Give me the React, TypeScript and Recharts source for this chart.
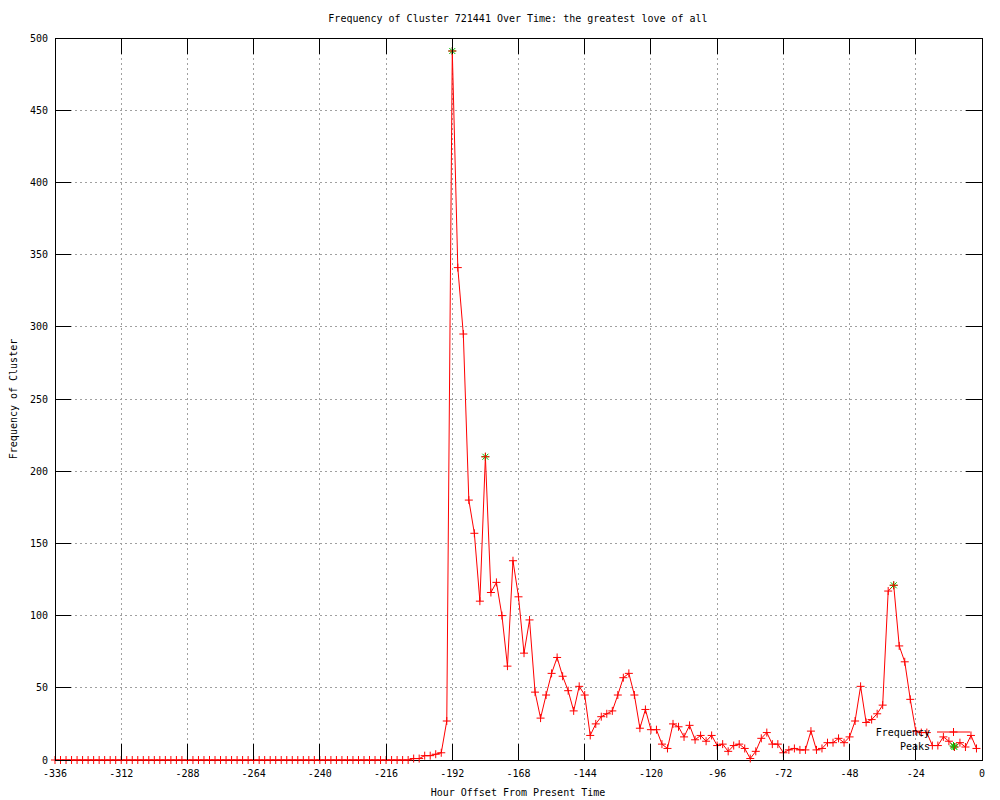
import React from 'react';
import { LineChart, Line, XAxis, YAxis, CartesianGrid, ReferenceArea } from 'recharts';

// hour offsets, one sample every 2 hours from -336 to -2
const hours: number[] = Array.from({ length: 168 }, (_, i) => -336 + 2 * i);

const frequency: number[] = [
  // -336 .. -212
  0, 0, 0, 0, 0, 0, 0, 0, 0, 0, 0, 0, 0, 0, 0, 0, 0, 0, 0, 0, 0,
  0, 0, 0, 0, 0, 0, 0, 0, 0, 0, 0, 0, 0, 0, 0, 0, 0, 0, 0, 0, 0,
  0, 0, 0, 0, 0, 0, 0, 0, 0, 0, 0, 0, 0, 0, 0, 0, 0, 0, 0, 0, 0,
  // -210 .. -194
  0, 0, 1, 1, 3, 3, 4, 5, 27,
  // -192 .. -162
  491, 341, 295, 180, 157, 110, 210, 116, 123, 100, 65, 138, 113, 74, 97, 47,
  // -160 .. -130
  29, 45, 60, 71, 58, 48, 34, 51, 45, 17, 25, 30, 32, 34, 45, 57,
  // -128 .. -98
  60, 45, 22, 35, 21, 21, 11, 8, 25, 23, 16, 24, 14, 17, 13, 17,
  // -96 .. -66
  10, 11, 6, 10, 11, 8, 1, 6, 15, 19, 11, 11, 5, 7, 8, 7,
  // -64 .. -34
  7, 20, 7, 8, 12, 12, 15, 12, 16, 27, 51, 26, 28, 32, 38, 117,
  // -32 .. -2
  121, 79, 68, 42, 20, 19, 19, 10, 10, 16, 13, 9, 12, 9, 17, 8,
];

const peakHours: number[] = [-192, -180, -32, -10];
const peakValues: number[] = [491, 210, 121, 9];

const xTicks: number[] = [-336, -312, -288, -264, -240, -216, -192, -168, -144, -120, -96, -72, -48, -24, 0];
const yTicks: number[] = [0, 50, 100, 150, 200, 250, 300, 350, 400, 450, 500];

const data = hours.map((h, i) => {
  const p = peakHours.indexOf(h);
  return { hour: h, freq: frequency[i], peak: p >= 0 ? peakValues[p] : null };
});

const FONT = '"DejaVu Sans Mono", "Liberation Mono", monospace';
const RED = '#ff0000';
const GREEN = '#00c000';

// plot box (gnuplot draws ticks inward on all four sides)
const TOP = 38;
const BOTTOM = 760;
const LEFT = 55;
const RIGHT = 982;
const TICK = 16;

const XTick = (props: any) => {
  const { x, y, payload } = props;
  return (
    <g>
      <line x1={x} y1={BOTTOM} x2={x} y2={BOTTOM - TICK} stroke="#000" shapeRendering="crispEdges" />
      <line x1={x} y1={TOP} x2={x} y2={TOP + TICK} stroke="#000" shapeRendering="crispEdges" />
      <text x={x} y={y} dy="0.71em" textAnchor="middle" fontFamily={FONT} fontSize={10} fill="#000">
        {payload.value}
      </text>
    </g>
  );
};

const YTick = (props: any) => {
  const { x, y, payload } = props;
  return (
    <g>
      <line x1={LEFT} y1={y} x2={LEFT + TICK} y2={y} stroke="#000" shapeRendering="crispEdges" />
      <line x1={RIGHT} y1={y} x2={RIGHT - TICK} y2={y} stroke="#000" shapeRendering="crispEdges" />
      <text x={x} y={y} dy="0.355em" textAnchor="end" fontFamily={FONT} fontSize={10} fill="#000">
        {payload.value}
      </text>
    </g>
  );
};

const renderPlus = (props: any) => {
  const { cx, cy, index } = props;
  if (cx == null || cy == null) return <g key={`f-${index}`} />;
  return (
    <path
      key={`f-${index}`}
      d={`M${cx - 4},${cy}h8M${cx},${cy - 4}v8`}
      stroke={RED}
      strokeWidth={1}
      fill="none"
    />
  );
};

const renderStar = (props: any) => {
  const { cx, cy, index } = props;
  if (cx == null || cy == null) return <g key={`p-${index}`} />;
  return (
    <path
      key={`p-${index}`}
      d={`M${cx - 4},${cy}h8M${cx},${cy - 4}v8M${cx - 3},${cy - 3}l6,6M${cx - 3},${cy + 3}l6,-6`}
      stroke={GREEN}
      strokeWidth={1}
      fill="none"
    />
  );
};

export default function App() {
  return (
    <div style={{ position: 'absolute', left: 0, top: 0, width: 1000, height: 800, background: '#fff' }}>
      <LineChart width={1000} height={800} data={data} margin={{ top: TOP, right: 1000 - RIGHT, bottom: 0, left: 0 }}>
        <CartesianGrid stroke="#a0a0a0" strokeDasharray="2 3" shapeRendering="crispEdges" />
        <XAxis
          dataKey="hour"
          type="number"
          domain={[-336, 0]}
          ticks={xTicks}
          interval={0}
          height={800 - BOTTOM}
          tickSize={0}
          tickMargin={10}
          axisLine={false}
          tick={XTick}
        />
        <YAxis
          type="number"
          domain={[0, 500]}
          ticks={yTicks}
          interval={0}
          width={LEFT}
          tickSize={0}
          tickMargin={7}
          axisLine={false}
          tick={YTick}
        />
        <ReferenceArea
          x1={-336}
          x2={0}
          y1={0}
          y2={500}
          fill="none"
          stroke="#000"
          shapeRendering="crispEdges"
          ifOverflow="visible"
        />
        <Line
          type="linear"
          dataKey="peak"
          stroke="none"
          dot={renderStar}
          activeDot={false}
          isAnimationActive={false}
        />
        <Line
          type="linear"
          dataKey="freq"
          stroke={RED}
          strokeWidth={1}
          dot={renderPlus}
          activeDot={false}
          isAnimationActive={false}
        />
      </LineChart>
      <svg
        width={1000}
        height={800}
        style={{ position: 'absolute', left: 0, top: 0, pointerEvents: 'none' }}
        fontFamily={FONT}
        fontSize={10}
      >
        <text x={518} y={22} textAnchor="middle">
          Frequency of Cluster 721441 Over Time: the greatest love of all
        </text>
        <text x={518} y={796} textAnchor="middle">
          Hour Offset From Present Time
        </text>
        <text transform="translate(17,399) rotate(-90)" textAnchor="middle">
          Frequency of Cluster
        </text>
        {/* legend */}
        <text x={930} y={736} textAnchor="end">Frequency</text>
        <line x1={937} y1={732} x2={970} y2={732} stroke={RED} />
        <path d="M949.5,732h8M953.5,728v8" stroke={RED} fill="none" />
        <text x={930} y={750} textAnchor="end">Peaks</text>
        <path d="M949.5,746h8M953.5,742v8M950.5,743l6,6M950.5,749l6,-6" stroke={GREEN} fill="none" />
      </svg>
    </div>
  );
}
